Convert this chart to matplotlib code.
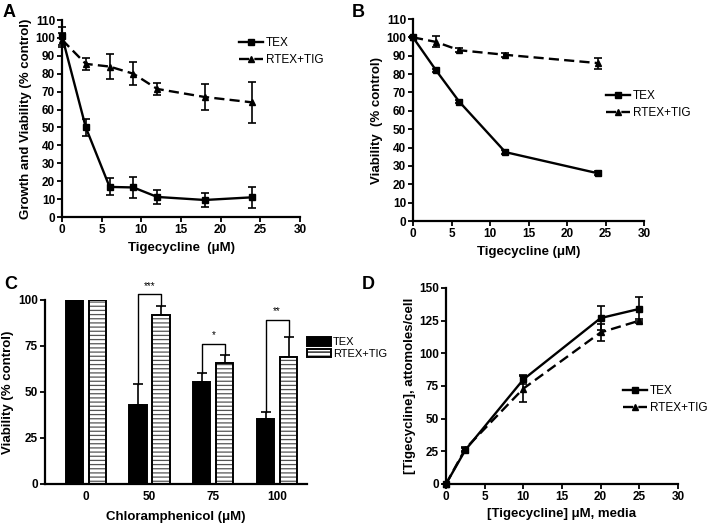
import numpy as np
import matplotlib
matplotlib.use("Agg")
import matplotlib.pyplot as plt
from matplotlib.patches import Patch

plt.rcParams['font.family'] = ['Liberation Sans', 'DejaVu Sans']
plt.rcParams['hatch.linewidth'] = 0.9

# panel A: growth and viability vs tigecycline
a_x = [0, 3, 6, 9, 12, 18, 24]
a_tex = [101, 50, 16.8, 16.5, 11.2, 9.5, 11]
a_tex_err = [5, 4.5, 4.7, 6, 4, 3.7, 5.7]
a_rtex = [99, 85.5, 84, 80, 71.5, 67, 64]
a_rtex_err = [4, 3.5, 7, 6.5, 3.5, 7, 11.5]

# panel B: viability vs tigecycline
b_x = [0, 3, 6, 12, 24]
b_tex = [100, 82, 65, 37.5, 26]
b_tex_err = [0.5, 1, 1, 1, 1]
b_rtex = [100, 97.5, 93, 90.5, 86]
b_rtex_err = [0.5, 3, 1, 1, 3]

# panel C: viability vs chloramphenicol
c_labels = ['0', '50', '75', '100']
c_tex = [100, 43, 55.5, 35.5]
c_tex_err = [0, 11.5, 5, 3.5]
c_rtex = [100, 92, 66, 69]
c_rtex_err = [0, 4.5, 4, 11]
c_sig = ['***', '*', '**']
c_sig_y = [103, 76, 89]

# panel D: intracellular tigecycline
d_x = [0, 2.5, 10, 20, 25]
d_tex = [0, 26, 80, 127, 134]
d_tex_err = [0, 1.5, 3.5, 9, 9]
d_rtex = [0, 27, 73, 116, 125]
d_rtex_err = [0, 1.5, 10, 6.5, 1.5]

W, H = 712, 526
fig = plt.figure(figsize=(W / 100, H / 100), dpi=100)


def px_axes(l, t, r, b):
    return fig.add_axes([l / W, 1 - b / H, (r - l) / W, (b - t) / H])


def style(ax):
    for s in ['top', 'right']:
        ax.spines[s].set_visible(False)
    for s in ['left', 'bottom']:
        ax.spines[s].set_linewidth(1.6)
    ax.tick_params(direction='out', length=3.5, width=1.3, labelsize=8.5, pad=1.5)
    for lab in ax.get_xticklabels() + ax.get_yticklabels():
        lab.set_fontweight('bold')


def lines(ax, x, tex, tex_err, rtex, rtex_err):
    ax.errorbar(x, rtex, yerr=rtex_err, fmt='none', ecolor='k', elinewidth=1.2,
                capsize=3, capthick=1.2, clip_on=False, zorder=3)
    ax.errorbar(x, tex, yerr=tex_err, fmt='none', ecolor='k', elinewidth=1.2,
                capsize=3, capthick=1.2, clip_on=False, zorder=3)
    ax.plot(x, tex, '-', color='k', lw=1.7, marker='s', ms=4.8, label='TEX',
            clip_on=False, zorder=4)
    ax.plot(x, rtex, color='k', lw=1.7, ls=(0, (4.3, 2.2)), marker='^', ms=4.8,
            label='RTEX+TIG', clip_on=False, zorder=4)


def line_legend(ax, x, y):
    ax.legend(loc='upper left', bbox_to_anchor=(x, y), bbox_transform=fig.transFigure,
              frameon=False, fontsize=8.5, handlelength=2.0, handletextpad=0.3,
              labelspacing=0.45, borderpad=0, borderaxespad=0, numpoints=1)


# A
ax = px_axes(62, 20, 300, 217)
lines(ax, a_x, a_tex, a_tex_err, a_rtex, a_rtex_err)
ax.set_xlim(0, 30)
ax.set_ylim(0, 110)
ax.set_xticks(np.arange(0, 31, 5))
ax.set_yticks(np.arange(0, 111, 10))
ax.set_xlabel('Tigecycline  (\u03bcM)', fontsize=9.5, fontweight='bold')
ax.set_ylabel('Growth and Viability (% control)', fontsize=9.5, fontweight='bold', labelpad=2)
style(ax)
line_legend(ax, 239 / W, 1 - 37 / H)
fig.text(3 / W, 1 - 4 / H, 'A', fontsize=13, fontweight='bold', va='top')

# B
ax = px_axes(413, 19, 644, 221)
lines(ax, b_x, b_tex, b_tex_err, b_rtex, b_rtex_err)
ax.set_xlim(0, 30)
ax.set_ylim(0, 110)
ax.set_xticks(np.arange(0, 31, 5))
ax.set_yticks(np.arange(0, 111, 10))
ax.set_xlabel('Tigecycline (\u03bcM)', fontsize=9.5, fontweight='bold')
ax.set_ylabel('Viability  (% control)', fontsize=9.5, fontweight='bold', labelpad=2)
style(ax)
line_legend(ax, 606 / W, 1 - 90 / H)
fig.text(352 / W, 1 - 4 / H, 'B', fontsize=13, fontweight='bold', va='top')

# C
ax = px_axes(45, 300, 307, 484)
pos = np.arange(len(c_labels))
bw, off = 0.27, 0.18
ax.bar(pos - off, c_tex, bw, color='k', edgecolor='k', lw=1.4, zorder=2)
ax.errorbar(pos - off, c_tex, yerr=[np.zeros(4), c_tex_err], fmt='none', ecolor='k',
            elinewidth=1.2, capsize=3.3, capthick=1.2, zorder=1)
ax.bar(pos + off, c_rtex, bw, color='white', edgecolor='#555555', hatch='----', lw=0, zorder=2)
ax.bar(pos + off, c_rtex, bw, color='none', edgecolor='k', lw=1.4, zorder=3)
ax.errorbar(pos + off, c_rtex, yerr=[np.zeros(4), c_rtex_err], fmt='none', ecolor='k',
            elinewidth=1.2, capsize=3.3, capthick=1.2, zorder=1)
for i, (lab, yb) in enumerate(zip(c_sig, c_sig_y)):
    g = i + 1
    ax.plot([g - off, g - off, g + off, g + off],
            [c_tex[g] + c_tex_err[g], yb, yb, c_rtex[g] + c_rtex_err[g]],
            color='k', lw=1.0, clip_on=False)
    ax.text(g, yb + 2, lab, ha='center', va='bottom', fontsize=7, clip_on=False)
ax.set_xlim(-0.64, 3.47)
ax.set_ylim(0, 100)
ax.set_xticks(pos)
ax.set_xticklabels(c_labels)
ax.set_yticks([0, 25, 50, 75, 100])
ax.set_xlabel('Chloramphenicol (\u03bcM)', fontsize=9.5, fontweight='bold', labelpad=6)
ax.set_ylabel('Viability (% control)', fontsize=9.5, fontweight='bold', labelpad=3)
style(ax)
ax.tick_params(axis='x', length=0, pad=5)
handles = [Patch(facecolor='k', edgecolor='k', lw=1.4),
           Patch(facecolor='white', edgecolor='k', hatch='----', lw=1.4)]
ax.legend(handles, ['TEX', 'RTEX+TIG'], loc='upper left', bbox_to_anchor=(307 / W, 1 - 337 / H),
          bbox_transform=fig.transFigure, frameon=False, fontsize=8, handlelength=2.2,
          handleheight=0.8, handletextpad=0.15, labelspacing=0.15, borderpad=0, borderaxespad=0)
fig.text(4 / W, 1 - 276 / H, 'C', fontsize=13, fontweight='bold', va='top')

# D
ax = px_axes(446, 288, 678, 484)
lines(ax, d_x, d_tex, d_tex_err, d_rtex, d_rtex_err)
ax.set_xlim(0, 30)
ax.set_ylim(0, 150)
ax.set_xticks(np.arange(0, 31, 5))
ax.set_yticks(np.arange(0, 151, 25))
narrow = ['Liberation Sans Narrow', 'Liberation Sans']
ax.set_xlabel('[Tigecycline] \u03bcM, media', fontsize=9.5, fontweight='bold', family=narrow)
ax.set_ylabel('[Tigecycline], attomoles/cell', fontsize=9.5, fontweight='bold', family=narrow,
              labelpad=2)
style(ax)
line_legend(ax, 623 / W, 1 - 385 / H)
fig.text(362 / W, 1 - 276 / H, 'D', fontsize=13, fontweight='bold', va='top')

fig.savefig('out.png', dpi=100)
